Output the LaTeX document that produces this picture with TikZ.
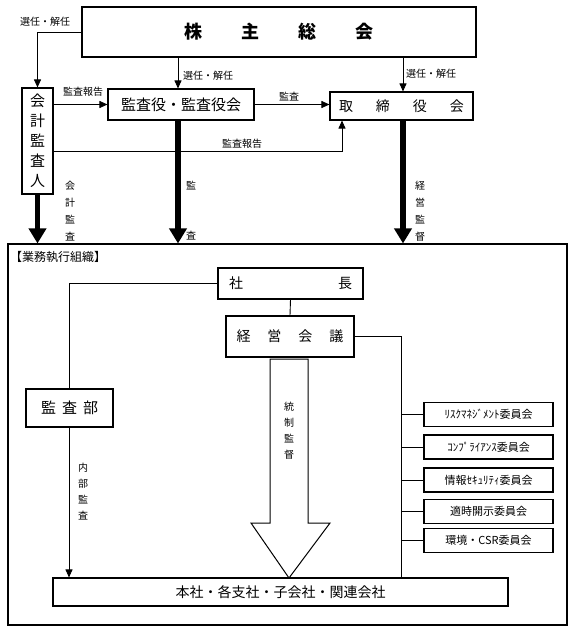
\documentclass[tikz,border=0pt]{standalone}
\usepackage{fontspec}
\setmainfont{Noto Sans CJK JP}
\usetikzlibrary{arrows.meta}
\begin{document}
\begin{tikzpicture}[x=1pt,y=-1pt,
  box/.style={draw, line width=1.1pt, inner sep=0pt, font=\fontsize{14}{16}\selectfont},
  lbl/.style={inner sep=0pt, font=\fontsize{10}{12}\selectfont},
  vlbl/.style={inner sep=0pt, align=center, font=\fontsize{10}{17}\selectfont},
  thinline/.style={line width=0.9pt},
  arr/.style={thinline, -{Triangle[width=7pt,length=8pt]}},
  thickarr/.style={line width=5.5pt, -{Triangle[width=17pt,length=15pt]}},
  com/.style={draw, line width=1.1pt, minimum width=129pt, minimum height=24pt, inner sep=0pt, font=\fontsize{11}{13}\selectfont}]
\useasboundingbox (0,0) rectangle (573,632);

% top level
\node[box, minimum width=394pt, minimum height=50pt, font=\fontsize{18}{20}\selectfont\bfseries] (top) at (279,32)
  {株\hspace{39pt}主\hspace{39pt}総\hspace{39pt}会};
\node[box, minimum width=31pt, minimum height=106pt, align=center, font=\fontsize{15}{20}\selectfont] (kaikei) at (37.5,141)
  {会\\計\\監\\査\\人};
\node[box, minimum width=146pt, minimum height=31pt, font=\fontsize{15}{17}\selectfont] (kansayaku) at (181,104.5)
  {監査役・監査役会};
\node[box, minimum width=143pt, minimum height=28pt] (tori) at (401.5,106)
  {取\hspace{23pt}締\hspace{23pt}役\hspace{23pt}会};

% frame
\node[draw, line width=1.1pt, minimum width=559pt, minimum height=381pt, inner sep=0pt] (frame) at (287.5,434.5) {};
\node[inner sep=0pt, anchor=west, font=\fontsize{12}{14}\selectfont] (gyomu) at (10,257) {【業務執行組織】};

% inner boxes
\node[box, minimum width=145pt, minimum height=31pt] (shacho) at (290.5,283.5)
  {社\hspace{95pt}長};
\node[box, minimum width=128pt, minimum height=41pt] (keiei) at (290,336.5)
  {経\hspace{17pt}営\hspace{17pt}会\hspace{17pt}議};
\node[box, minimum width=87pt, minimum height=38pt, font=\fontsize{15}{17}\selectfont] (kansabu) at (69.5,408)
  {監\hspace{6pt}査\hspace{6pt}部};
\node[box, minimum width=455pt, minimum height=28pt] (honsha) at (280.5,592)
  {本社・各支社・子会社・関連会社};

\node[com] (c1) at (488.5,414.5) {ﾘｽｸﾏﾈｼﾞﾒﾝﾄ委員会};
\node[com] (c2) at (488.5,447) {ｺﾝﾌﾟﾗｲｱﾝｽ委員会};
\node[com] (c3) at (488.5,480) {情報ｾｷｭﾘﾃｨ委員会};
\node[com] (c4) at (488.5,511.5) {適時開示委員会};
\node[com] (c5) at (488.5,540.5) {環境・CSR委員会};

% coordinates
\coordinate (xa) at (178,0);
\coordinate (xb) at (403,0);
\coordinate (xr) at (342,0);
\coordinate (yr) at (0,151);
\coordinate (bus) at (401,336.5);
\coordinate (xk) at (69,0);

% top connectors
\draw[arr] (top.west) -| (kaikei.north);
\draw[arr] (xa |- top.south) -- (xa |- kansayaku.north);
\draw[arr] (xb |- top.south) -- (xb |- tori.north);
\draw[arr] (kaikei.east |- kansayaku.west) -- (kansayaku.west);
\draw[arr] (kansayaku.east) -- (kansayaku.east -| tori.west);
\draw[arr] (kaikei.east |- yr) -| (xr |- tori.south);

\node[lbl] (l1) at (45,22) {選任・解任};
\node[lbl, anchor=west] (l2) at (183,76) {選任・解任};
\node[lbl, anchor=west] (l3) at (406,74) {選任・解任};
\node[lbl] (l4) at (83,92) {監査報告};
\node[lbl] (l5) at (289,97) {監査};
\node[lbl] (l6) at (242,144) {監査報告};

% thick arrows
\draw[thickarr] (kaikei.south) -- (kaikei.south |- frame.north);
\draw[thickarr] (xa |- kansayaku.south) -- (xa |- frame.north);
\draw[thickarr] (xb |- tori.south) -- (xb |- frame.north);

\node[vlbl] (v1) at (70,211) {会\\計\\監\\査};
\node[lbl] (v2a) at (191,186) {監};
\node[lbl] (v2b) at (191,236) {査};
\node[vlbl] (v3) at (420,211) {経\\営\\監\\督};

% inner connectors
\draw[thinline] (shacho.west) -| (xk |- kansabu.north);
\draw[thinline] (shacho.south) -- (keiei.north);
\draw[thinline] (keiei.east) -- (bus) -- (bus |- honsha.north);
\foreach \c in {c1,c2,c3,c4,c5} \draw[thinline] (\c.west) -- (\c.west -| bus);
\draw[arr] (xk |- kansabu.south) -- (xk |- honsha.north);
\node[vlbl, font=\fontsize{10}{16}\selectfont] (v4) at (83,492) {内\\部\\監\\査};

% hollow arrow
\draw[line width=1pt, fill=white] (270,359) -- (308,359) -- (308,523) -- (330,523) -- (289,578) -- (251,523) -- (270,523) -- cycle;
\node[vlbl, font=\fontsize{10}{16}\selectfont] (v5) at (289,431) {統\\制\\監\\督};
\end{tikzpicture}
\end{document}
